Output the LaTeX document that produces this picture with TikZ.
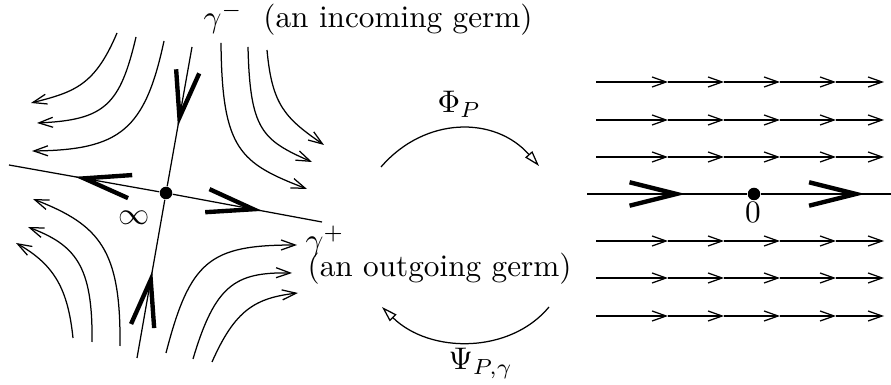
\documentclass[tikz,border=0pt]{standalone}
\usetikzlibrary{arrows.meta,decorations.markings}

\begin{document}
\begin{tikzpicture}[x=0.32pt,y=-0.32pt,
    bigbarb/.tip={Straight Barb[length=15pt,width=7.5pt,line width=1.4pt]},
    flow/.style={-{Straight Barb[length=4.5pt,width=3.2pt]}},
    septrix/.style={postaction={decorate},
      decoration={markings,mark=at position #1 with {\arrow{bigbarb}}}},
    maparc/.style={-{Triangle[open,length=5pt,width=3pt]}},
    fixpt/.style={circle,fill,inner sep=0pt,minimum size=4pt},
    lbl/.style={inner sep=0pt}]
    \useasboundingbox (0,0) rectangle (891,385);
    % saddle at infinity
    \node[fixpt] (inf) at (166,193) {};
    \coordinate (wEnd) at (9,165);
    \coordinate (eEnd) at (322,222);
    \coordinate (nEnd) at (192,47);
    \coordinate (sEnd) at (137,358);
    \draw[septrix=0.56] (inf) -- (wEnd);
    \draw[septrix=0.60] (inf) -- (eEnd);
    \draw[septrix=0.57] (nEnd) -- (inf);
    \draw[septrix=0.55] (sEnd) -- (inf);
    \node[lbl] (infty) at (134,218) {$\infty$};
    % flow lines round the saddle
    \draw[flow] (117,33) .. controls (95,85) and (75,92) .. (31,103);
    \draw[flow] (136,37) .. controls (120,105) and (105,120) .. (37,123);
    \draw[flow] (164,41) .. controls (145,130) and (120,150) .. (32,151);
    \draw[flow] (221,43) .. controls (222,150) and (240,163) .. (307,189);
    \draw[flow] (248,47) .. controls (250,130) and (262,140) .. (312,162);
    \draw[flow] (267,50) .. controls (272,105) and (285,118) .. (324,145);
    \draw[flow] (120,346) .. controls (121,250) and (100,225) .. (33,199);
    \draw[flow] (92,342) .. controls (93,265) and (75,245) .. (28,227);
    \draw[flow] (73,338) .. controls (68,290) and (55,265) .. (16,243);
    \draw[flow] (166,353) .. controls (190,260) and (210,245) .. (297,245);
    \draw[flow] (193,359) .. controls (215,285) and (235,272) .. (292,273);
    \draw[flow] (212,362) .. controls (235,310) and (255,298) .. (298,293);
    \node[lbl, anchor=base west] (germin) at (203,28) {$\gamma^-$\ \ (an incoming germ)};
    \node[lbl, anchor=base west] (gplus) at (305,251) {$\gamma^+$};
    \node[lbl, anchor=base west] (germout) at (307,277) {(an outgoing germ)};
    % the two maps
    \coordinate (phiA) at (381,167);
    \coordinate (phiB) at (539,166);
    \coordinate (psiA) at (549,307);
    \coordinate (psiB) at (382,307);
    \draw[maparc] (phiA) .. controls (425,116) and (495,116) .. (phiB);
    \draw[maparc] (psiA) .. controls (510,354) and (430,354) .. (psiB);
    \node[lbl, anchor=base west] (phi) at (437,113) {$\Phi_P$};
    \node[lbl, anchor=base west] (psi) at (448,370) {$\Psi_{P,\gamma}$};
    % straightened flow
    \node[fixpt] (zero) at (754,194) {};
    \coordinate (rW) at (587,194);
    \coordinate (rE) at (891,194);
    \draw[septrix=0.615] (rW) -- (zero);
    \draw[septrix=0.80] (zero) -- (rE);
    \node[lbl] (zlabel) at (753,212) {$0$};
    \foreach \y in {82,120,157,241,278,316}
      \foreach \a/\b in {596/668,668/724,724/780,780/836,836/884}
        \draw[flow] (\a,\y) -- (\b,\y);
  \end{tikzpicture}
\end{document}
